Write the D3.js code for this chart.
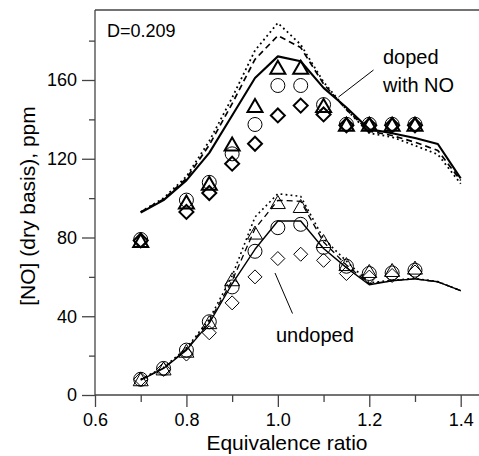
<!DOCTYPE html>
<html><head><meta charset="utf-8">
<script src="https://cdn.jsdelivr.net/npm/d3@7"></script>
<style>body{margin:0;background:#fff}svg{display:block;font-family:"Liberation Sans",Arial,sans-serif}</style>
</head><body>
<svg id="c" width="479" height="456"></svg>
<script>
// ---- data ----
const phiLine = [0.7,0.75,0.8,0.85,0.9,0.95,1.0,1.05,1.1,1.15,1.2,1.25,1.3,1.35,1.4];
const dopedSolid  = [92.6,99,109,123,142,161,172,169.5,156,146,135,133,130.5,127.5,110];
const dopedDashed = [93,99.5,110,127,148,170.5,182.5,176.5,158,145,134,131.8,128.4,124.2,109];
const dopedDotted = [93,100,111,129,151,175,189,178,159,145,133,131,126.7,122.2,107.3];
const undopedSolid  = [7.6,13.5,22.8,36.5,56.5,74,88.4,88.4,74.4,64.7,56,58,59,57.5,53];
const undopedDashed = [7.8,13.7,23.2,37.5,58,84.5,98.9,98.4,77.7,66,56.5,58,59,57.5,53];
const undopedDotted = [8,14,23.8,38.5,60.5,90.4,102.2,100.9,79.4,68,57,58.3,59.2,57.6,53];

const phiDoped = [0.7,0.8,0.85,0.9,0.95,1.0,1.05,1.1,1.15,1.2,1.25,1.3];
const dopedTri  = [78,97.5,107,127,146.5,166,166,146.5,137,137,137,137];
const dopedCirc = [79,99,108,122.5,137.4,157.2,157.2,147.5,137.5,137.5,137.5,137.5];
const dopedDiam = [78.5,93,102.6,117.5,127.6,142,147,142.5,137,137,137,137];

const phiUndoped = [0.7,0.75,0.8,0.85,0.9,0.95,1.0,1.05,1.1,1.15,1.2,1.25,1.3];
const undopedTri  = [7.5,13,22,36.5,58.3,82,97.5,95.5,77.7,66,62.5,63,64.2];
const undopedCirc = [8,13.5,22.8,37.2,54.9,73,85,86.7,75,65.4,61.7,62,63.4];
const undopedDiam = [8,13,20.8,31.6,46.8,60,69.3,71.5,68.4,61.7,59.9,60.7,62.5];

const xMajor = [0.6,0.8,1.0,1.2,1.4];
const xMinor = [0.7,0.9,1.1,1.3];
const yMajor = [0,40,80,120,160];
const yMinor = [20,60,100,140,180];

// ---- drawing ----
const svg = d3.select("#c");
const x = d3.scaleLinear().domain([0.6,1.4]).range([95,460.7]);
const y = d3.scaleLinear().domain([0,160]).range([395,80]);
const axisCol = "#444";

// frame / axes
svg.append("line").attr("x1",95).attr("x2",479).attr("y1",10).attr("y2",10).attr("stroke",axisCol).attr("stroke-width",1.3);
svg.append("line").attr("x1",95).attr("x2",95).attr("y1",10).attr("y2",395).attr("stroke",axisCol).attr("stroke-width",1.3);
svg.append("line").attr("x1",95).attr("x2",479).attr("y1",395).attr("y2",395).attr("stroke",axisCol).attr("stroke-width",1.3);

const xAxis = svg.append("g").attr("transform","translate(0,395)")
  .call(d3.axisBottom(x).tickValues(xMajor).tickSize(12).tickPadding(6).tickFormat(d3.format(".1f")));
const xAxisMinor = svg.append("g").attr("transform","translate(0,395)")
  .call(d3.axisBottom(x).tickValues(xMinor).tickSize(7).tickFormat(""));
const yAxis = svg.append("g").attr("transform","translate(95,0)")
  .call(d3.axisLeft(y).tickValues(yMajor).tickSize(13).tickPadding(5).tickFormat(d3.format("d")));
const yAxisMinor = svg.append("g").attr("transform","translate(95,0)")
  .call(d3.axisLeft(y).tickValues(yMinor).tickSize(6).tickFormat(""));
[xAxis,xAxisMinor,yAxis,yAxisMinor].forEach(g=>{
  g.select(".domain").remove();
  g.selectAll(".tick line").attr("stroke",axisCol).attr("stroke-width",1.3);
  g.selectAll("text").attr("fill","#000").style("font-size","18px").style("font-family","'Liberation Sans',Arial,sans-serif");
});

// axis titles
svg.append("text").attr("x",287).attr("y",450).attr("text-anchor","middle")
  .style("font-size","21px").text("Equivalence ratio");
svg.append("text").attr("transform","translate(35,206) rotate(-90)").attr("text-anchor","middle")
  .style("font-size","21px").text("[NO] (dry basis), ppm");

// lines
const line = d3.line().x((d,i)=>x(phiLine[i])).y(d=>y(d));
function drawLine(vals, w, dash){
  svg.append("path").datum(vals).attr("d",line).attr("fill","none").attr("stroke","#000")
    .attr("stroke-width",w).attr("stroke-dasharray",dash||null).attr("stroke-linejoin","round");
}
drawLine(dopedDotted,1.8,"1.8,3.2");
drawLine(dopedDashed,1.7,"6,4");
drawLine(dopedSolid,2.1);
drawLine(undopedDotted,1.6,"1.8,3.2");
drawLine(undopedDashed,1.3,"6,4");
drawLine(undopedSolid,1.4);

// markers
function circles(xs, ys, w){
  svg.append("g").selectAll("circle").data(ys).join("circle")
    .attr("cx",(d,i)=>x(xs[i])).attr("cy",d=>y(d)).attr("r",7)
    .attr("fill","none").attr("stroke","#000").attr("stroke-width",w);
}
function triangles(xs, ys, w){
  svg.append("g").selectAll("path").data(ys).join("path")
    .attr("d",(d,i)=>{const cx=x(xs[i]), cy=y(d); return `M${cx},${cy-7.5}L${cx+7.5},${cy+5.5}L${cx-7.5},${cy+5.5}Z`;})
    .attr("fill","none").attr("stroke","#000").attr("stroke-width",w).attr("stroke-linejoin","miter");
}
function diamonds(xs, ys, w){
  svg.append("g").selectAll("path").data(ys).join("path")
    .attr("d",(d,i)=>{const cx=x(xs[i]), cy=y(d); return `M${cx},${cy-7}L${cx+7},${cy}L${cx},${cy+7}L${cx-7},${cy}Z`;})
    .attr("fill","none").attr("stroke","#000").attr("stroke-width",w);
}
circles(phiDoped, dopedCirc, 1);
triangles(phiDoped, dopedTri, 2);
diamonds(phiDoped, dopedDiam, 2);
circles(phiUndoped, undopedCirc, 1);
triangles(phiUndoped, undopedTri, 1);
diamonds(phiUndoped, undopedDiam, 1);

// annotations
svg.append("text").attr("x",107).attr("y",36.5).style("font-size","18px").text("D=0.209");
svg.append("text").attr("x",383).attr("y",63.5).style("font-size","20px").text("doped");
svg.append("text").attr("x",383).attr("y",91.5).style("font-size","20px").text("with NO");
svg.append("line").attr("x1",373.5).attr("y1",70).attr("x2",338.5).attr("y2",97).attr("stroke","#000").attr("stroke-width",1);
svg.append("text").attr("x",276).attr("y",342).style("font-size","20px").text("undoped");
svg.append("line").attr("x1",275).attr("y1",273).attr("x2",292.5).attr("y2",313.5).attr("stroke","#000").attr("stroke-width",1);
</script>
</body></html>
